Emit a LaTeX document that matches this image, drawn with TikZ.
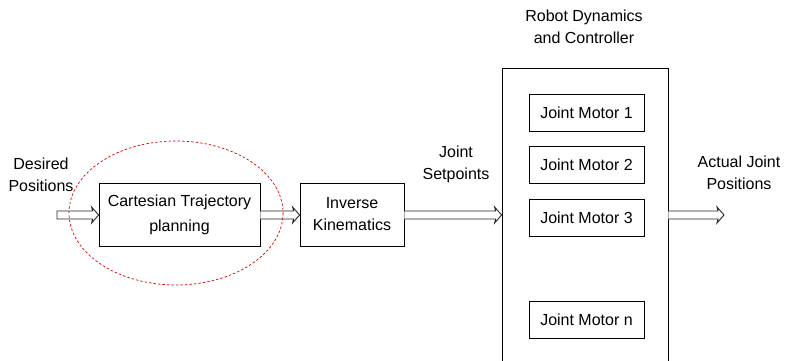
\documentclass[tikz,border=0pt]{standalone}
\usepackage{fontspec}
\setmainfont{Liberation Sans}
\usetikzlibrary{calc}
\newcommand\hollowarr[3]{%
  \draw[hollowarrow] let \p1=(#1), \p2=(#2) in
    ({\x1},{\y1+4pt}) -- ({\x2-6pt},{\y1+4pt}) -- ({\x2-7pt},{\y1+8pt}) -- ({\x2},{\y1})
    -- ({\x2-7pt},{\y1-8pt}) -- ({\x2-6pt},{\y1-4pt}) -- ({\x1},{\y1-4pt}) #3;}
\begin{document}
\begin{tikzpicture}[x=1pt,y=-1pt,
  every node/.style={font=\fontsize{16}{22}\selectfont, inner sep=0pt},
  blockbox/.style={draw=black, line width=0.8pt, rectangle, align=center},
  lbl/.style={align=center},
  hollowarrow/.style={draw=black!85, line width=0.9pt, fill=white, line join=miter}
]
\useasboundingbox (0,0) rectangle (789,361);
\clip (0,0) rectangle (789,361);
\fill[white] (0,0) rectangle (789,361);

% blocks
\node[blockbox, minimum width=161, minimum height=63] (cart) at (179.5,214.5)
  {Cartesian Trajectory\\[3pt]planning};
\node[blockbox, minimum width=104, minimum height=63] (ik) at (352,214.5)
  {Inverse\\Kinematics};
\node[blockbox, minimum width=166, minimum height=320] (robot) at (585,228) {};

\node[blockbox, minimum width=115, minimum height=37] (m1) at (586.5,112.5) {Joint Motor 1};
\node[blockbox, minimum width=115, minimum height=37] (m2) at (586.5,164.5) {Joint Motor 2};
\node[blockbox, minimum width=115, minimum height=37] (m3) at (586.5,217.5) {Joint Motor 3};
\node[blockbox, minimum width=115, minimum height=37] (mn) at (586.5,319.5) {Joint Motor n};

% labels
\node[lbl] (desired) at (41,175) {Desired\\Positions};
\node[lbl] (setp) at (456,164) {Joint\\Setpoints};
\node[lbl] (rdc) at (584,27) {Robot Dynamics\\and Controller};
\node[lbl] (actual) at (739,173) {Actual Joint\\Positions};

% arrows
\coordinate (in) at (57,215);
\coordinate (out) at (724,215);
\coordinate (a1e) at (cart.west |- in);
\coordinate (a2s) at (cart.east |- in);
\coordinate (a2e) at (ik.west |- in);
\coordinate (a3s) at (ik.east |- in);
\coordinate (a3e) at (robot.west |- in);
\coordinate (a4s) at (robot.east |- in);
\hollowarr{in}{a1e}{-- cycle}
\hollowarr{a2s}{a2e}{}
\hollowarr{a3s}{a3e}{}
\hollowarr{a4s}{out}{}

% red dashed ellipse
\draw[red!85!black, line width=0.7pt, dash pattern=on 2.5pt off 2pt] (176,213) ellipse [x radius=107, y radius=72];
\end{tikzpicture}
\end{document}
